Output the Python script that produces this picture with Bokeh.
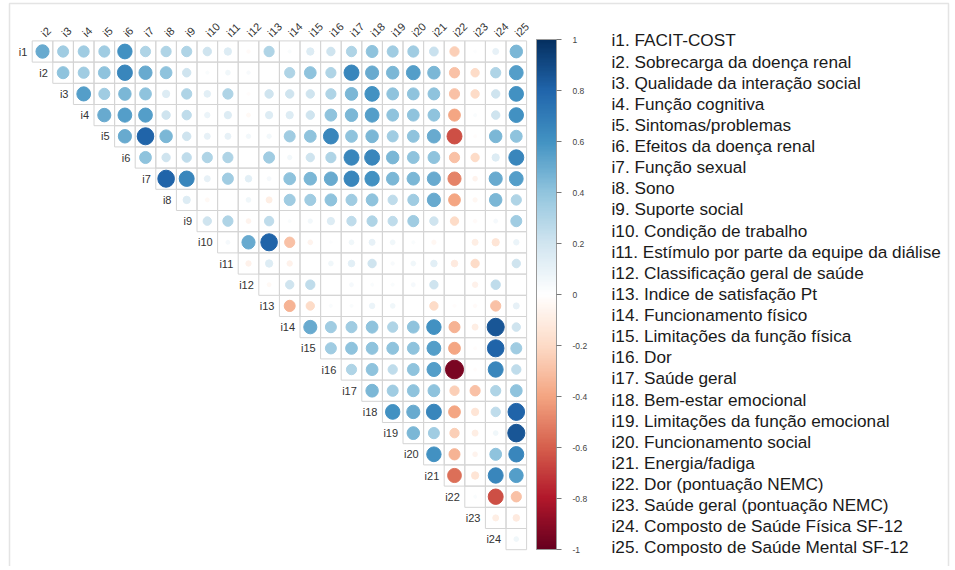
import numpy as np
from bokeh.plotting import figure
from bokeh.models import (Range1d, ColumnDataSource, LinearColorMapper, ColorBar,
                          FixedTicker, CustomJSTickFormatter, BoxAnnotation)
from bokeh.transform import transform
from bokeh.core.properties import value
from bokeh.embed import file_html
from bokeh.resources import INLINE

row_labels = ["i%d" % k for k in range(1, 25)]
col_labels = ["i%d" % k for k in range(2, 26)]
legend_labels = [
    "i1. FACIT-COST",
    "i2. Sobrecarga da doença renal",
    "i3. Qualidade da interação social",
    "i4. Função cognitiva",
    "i5. Sintomas/problemas",
    "i6. Efeitos da doença renal",
    "i7. Função sexual",
    "i8. Sono",
    "i9. Suporte social",
    "i10. Condição de trabalho",
    "i11. Estímulo por parte da equipe da diálise",
    "i12. Classificação geral de saúde",
    "i13. Indice de satisfação Pt",
    "i14. Funcionamento físico",
    "i15. Limitações da função física",
    "i16. Dor",
    "i17. Saúde geral",
    "i18. Bem-estar emocional",
    "i19. Limitações da função emocional",
    "i20. Funcionamento social",
    "i21. Energia/fadiga",
    "i22. Dor (pontuação NEMC)",
    "i23. Saúde geral (pontuação NEMC)",
    "i24. Composto de Saúde Física SF-12",
    "i25. Composto de Saúde Mental SF-12",
]
colorbar_ticks = [-1, -0.8, -0.6, -0.4, -0.2, 0, 0.2, 0.4, 0.6, 0.8, 1]

# upper-triangle correlations, each row starts at the column after its own item
row_i1 = [0.5, 0.35, 0.35, 0.35, 0.6, 0.3, 0.3, 0.3, 0.2, 0.15, -0.03, 0.3, 0.02, 0.15, 0.2, 0.3, 0.4, 0.35, 0.35, 0.22, -0.25, 0.01, 0.1, 0.45]
row_i2 = [0.4, 0.35, 0.4, 0.65, 0.5, 0.4, 0.2, 0.02, 0.06, 0.03, 0.0, 0.3, 0.4, 0.3, 0.65, 0.5, 0.45, 0.55, 0.45, -0.3, -0.2, 0.3, 0.55]
row_i3 = [0.55, 0.35, 0.45, 0.4, 0.15, 0.3, 0.12, 0.3, -0.02, 0.2, 0.2, 0.2, 0.3, 0.45, 0.6, 0.4, 0.4, 0.4, -0.3, -0.2, 0.2, 0.6]
row_i4 = [0.5, 0.55, 0.55, 0.2, 0.25, 0.08, 0.15, -0.04, 0.15, 0.15, 0.2, 0.4, 0.45, 0.55, 0.4, 0.4, 0.4, -0.4, 0.02, 0.2, 0.6]
row_i5 = [0.5, 0.8, 0.45, 0.2, 0.1, 0.1, 0.05, 0.05, 0.35, 0.4, 0.65, 0.4, 0.45, 0.35, 0.4, 0.5, -0.65, -0.02, 0.45, 0.4]
row_i6 = [0.4, 0.2, 0.25, 0.3, 0.3, 0.0, 0.35, 0.05, 0.2, 0.3, 0.65, 0.65, 0.45, 0.4, 0.4, -0.3, -0.2, 0.15, 0.65]
row_i7 = [0.8, 0.65, 0.1, 0.35, 0.12, 0.04, 0.4, 0.45, 0.5, 0.65, 0.6, 0.45, 0.45, 0.5, -0.5, -0.06, 0.5, 0.55]
row_i8 = [0.15, -0.04, 0.0, 0.06, -0.1, 0.35, 0.35, 0.4, 0.35, 0.4, 0.25, 0.35, 0.5, -0.4, -0.05, 0.45, 0.3]
row_i9 = [0.2, 0.3, -0.06, 0.25, 0.02, 0.05, 0.15, 0.25, 0.3, 0.25, 0.35, 0.2, -0.2, -0.03, 0.04, 0.35]
row_i10 = [0.04, 0.5, 0.8, -0.3, -0.06, 0.01, 0.06, 0.1, 0.06, 0.02, -0.05, 0.0, -0.1, -0.15, 0.08]
row_i11 = [-0.08, 0.15, -0.08, 0.0, 0.06, 0.12, 0.2, 0.03, 0.06, 0.12, -0.12, -0.2, 0.0, 0.2]
row_i12 = [-0.04, 0.2, 0.25, 0.0, 0.04, 0.02, 0.02, 0.04, 0.2, 0.0, -0.08, 0.25, 0.0]
row_i13 = [-0.35, -0.2, 0.02, 0.02, 0.08, 0.06, 0.0, -0.2, -0.02, -0.03, -0.3, 0.1]
row_i14 = [0.5, 0.35, 0.35, 0.4, 0.3, 0.4, 0.6, -0.35, -0.1, 0.85, 0.2]
row_i15 = [0.35, 0.4, 0.4, 0.4, 0.4, 0.55, -0.4, -0.02, 0.8, 0.35]
row_i16 = [0.3, 0.4, 0.25, 0.4, 0.55, -0.95, -0.02, 0.65, 0.25]
row_i17 = [0.45, 0.35, 0.4, 0.4, -0.25, -0.3, 0.3, 0.4]
row_i18 = [0.6, 0.5, 0.65, -0.4, -0.15, 0.25, 0.8]
row_i19 = [0.45, 0.35, -0.25, -0.1, 0.06, 0.85]
row_i20 = [0.6, -0.35, -0.06, 0.4, 0.65]
row_i21 = [-0.55, -0.15, 0.65, 0.55]
row_i22 = [0.02, -0.65, -0.3]
row_i23 = [-0.1, -0.12]
row_i24 = [0.06]

rows = [row_i1, row_i2, row_i3, row_i4, row_i5, row_i6, row_i7, row_i8, row_i9,
        row_i10, row_i11, row_i12, row_i13, row_i14, row_i15, row_i16, row_i17,
        row_i18, row_i19, row_i20, row_i21, row_i22, row_i23, row_i24]

# RdBu ramp (corrplot COL2('RdBu', 200))
anchors = ["#67001F", "#B2182B", "#D6604D", "#F4A582", "#FDDBC7", "#FFFFFF",
           "#D1E5F0", "#92C5DE", "#4393C3", "#2166AC", "#053061"]


def ramp(cols, n):
    rgb = np.array([[int(c[i:i + 2], 16) for i in (1, 3, 5)] for c in cols], float)
    out = []
    for t in np.linspace(0, len(cols) - 1, n):
        k = min(int(t), len(cols) - 2)
        f = t - k
        c = rgb[k] * (1 - f) + rgb[k + 1] * f
        out.append("#%02x%02x%02x" % tuple(int(round(v)) for v in c))
    return out


palette = ramp(anchors, 200)
mapper = LinearColorMapper(palette=palette, low=-1, high=1)

xs, ys, vals = [], [], []
for r, rv in enumerate(rows):
    for j, v in enumerate(rv):
        xs.append(r + j)
        ys.append(-r)
        vals.append(v)
diam = [0.9 * np.sqrt(abs(v)) for v in vals]
src = ColumnDataSource(dict(x=xs, y=ys, r=vals, d=diam))

W, H = 950, 566
DX, DY = 20.6, 21.2
CX0, CY0 = 42.0, 51.0   # frame pixel position of the first cell centre
x_lo = -CX0 / DX
y_hi = CY0 / DY
p = figure(width=W, height=H, output_backend="svg", toolbar_location=None,
           x_range=Range1d(x_lo, x_lo + W / DX), y_range=Range1d(y_hi - H / DY, y_hi),
           x_axis_type=None, y_axis_type=None, min_border=0)
p.grid.visible = False
p.outline_line_color = None
p.background_fill_color = "white"

# outer frame of the figure panel (bottom edge falls outside the view)
p.add_layout(BoxAnnotation(left=x_lo + 9 / DX, right=x_lo + 948 / DX,
                           top=y_hi - 3 / DY, bottom=y_hi - (H + 20) / DY,
                           fill_alpha=0, line_color="#a6a6a6", line_width=1.5))

p.rect("x", "y", 1, 1, source=src, fill_color=None, line_color="#d4d4d4", line_width=1)
p.ellipse("x", "y", width="d", height="d", source=src,
          fill_color=transform("r", mapper), line_color=transform("r", mapper))

font = value("Liberation Sans")
rsrc = ColumnDataSource(dict(x=[k - 0.74 for k in range(len(row_labels))],
                             y=[-k for k in range(len(row_labels))], t=row_labels))
p.text("x", "y", text="t", source=rsrc, text_align="right", text_baseline="middle",
       text_font=font, text_font_size="11px", text_color="#333333")

csrc = ColumnDataSource(dict(x=[k + 0.02 for k in range(len(col_labels))],
                             y=[0.78] * len(col_labels), t=col_labels))
p.text("x", "y", text="t", source=csrc, text_align="left", text_baseline="middle",
       angle=np.pi / 4,
       text_font=font, text_font_size="11px", text_color="#333333")

lsrc = ColumnDataSource(dict(x=[(611 - CX0) / DX for _ in legend_labels],
                             y=[0.52 - 0.9965 * k for k in range(len(legend_labels))],
                             t=legend_labels))
p.text("x", "y", text="t", source=lsrc, text_align="left", text_baseline="middle",
       text_font=font, text_font_size="17.2px", text_color="#1a1a1a")

cb = ColorBar(color_mapper=mapper, location=(536, H - 549), width=20, height=510,
              padding=0, margin=0,
              ticker=FixedTicker(ticks=colorbar_ticks),
              formatter=CustomJSTickFormatter(code="return String(Math.round(tick*10)/10)"),
              major_label_text_font_size="8.5px", major_label_text_color="#444444",
              major_label_text_font="Liberation Sans",
              label_standoff=11, major_tick_out=5, major_tick_in=0,
              major_tick_line_color="#777777", bar_line_color="#999999",
              background_fill_alpha=0, border_line_color=None)
p.add_layout(cb)

open("out.html", "w").write(file_html(p, INLINE))
